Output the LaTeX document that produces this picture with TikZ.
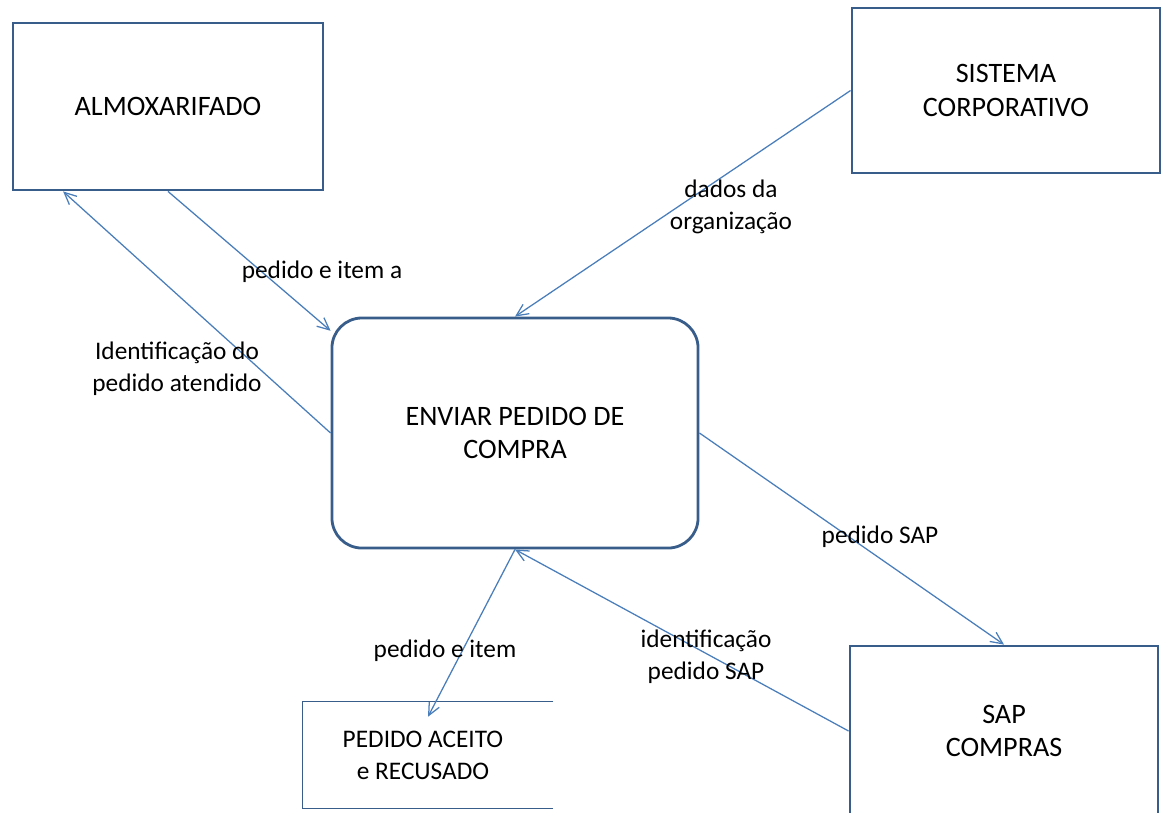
\documentclass[tikz,border=0pt]{standalone}
\usepackage{fontspec}
\setmainfont{Carlito}
\usetikzlibrary{arrows.meta}
\definecolor{boxblue}{RGB}{56,93,138}
\definecolor{lineblue}{RGB}{74,126,187}

\begin{document}
\begin{tikzpicture}[x=0.025cm,y=-0.025cm,
		font=\fontsize{18}{22.5}\selectfont,
		entity/.style={draw=boxblue,line width=2pt,align=center,font=\fontsize{20}{24}\selectfont},
		process/.style={draw=boxblue,line width=2pt,rounded corners=0.75cm,align=center,font=\fontsize{20}{24}\selectfont},
		flow/.style={draw=lineblue,line width=0.9pt,-{Straight Barb[length=3mm,width=2.8mm]}},
		flowtext/.style={align=center}]
			\useasboundingbox (0,0) rectangle (1162,812);
			\clip (0,0) rectangle (1162,812);

			\node [entity,minimum width=7.75cm,minimum height=4.175cm] (almox) at (168,106.5) {ALMOXARIFADO};
			\node [entity,minimum width=7.7cm,minimum height=4.125cm] (sistema) at (1006,90.5) {SISTEMA\\CORPORATIVO};
			\node [process,minimum width=9.15cm,minimum height=5.75cm] (enviar) at (515,433) {ENVIAR PEDIDO DE\\COMPRA};
			\node [entity,minimum width=7.7cm,minimum height=4.25cm] (sap) at (1004,731) {SAP\\COMPRAS};
			\node [align=center,minimum width=6.25cm,minimum height=2.65cm,text depth=0pt] (store) at (428,755) {\hspace*{-0.25cm}PEDIDO ACEITO\\\hspace*{-0.25cm}e RECUSADO};
			\draw [boxblue,line width=1pt] (store.north east) -- (store.north west) -- (store.south west) -- (store.south east);

			\draw [flow] (almox.south) -- (enviar.151);
			\draw [flow] (enviar.west) -- (almox.219);
			\draw [flow] (sistema.west) -- (enviar.north);
			\draw [flow] (enviar.east) -- (sap.north);
			\draw [flow] (sap.west) -- (enviar.south);
			\draw [flow] (enviar.south) -- ([yshift=-0.375cm]store.north);

			\node [flowtext] (t1) at (322,272) {pedido e item a};
			\node [flowtext] (t2) at (177,369) {Identificação do\\pedido atendido};
			\node [flowtext] (t3) at (731,207) {dados da\\organização};
			\node [flowtext] (t4) at (880,537) {pedido SAP};
			\node [flowtext] (t5) at (706,657) {identificação\\pedido SAP};
			\node [flowtext] (t6) at (445,651) {pedido e item};
		\end{tikzpicture}
\end{document}
